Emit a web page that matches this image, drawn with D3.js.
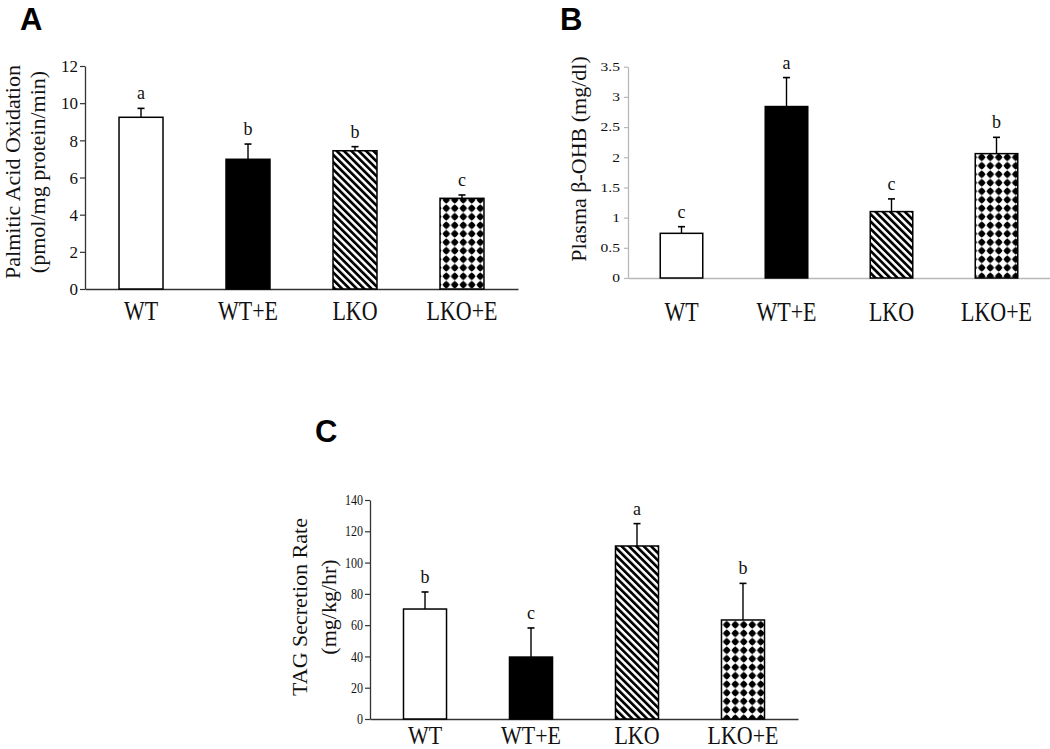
<!DOCTYPE html>
<html>
<head>
<meta charset="utf-8">
<script src="https://cdn.jsdelivr.net/npm/d3@7"></script>
<style>
  html, body { margin: 0; padding: 0; background: #fff; }
  svg { display: block; }
</style>
</head>
<body>
<svg id="chart" width="1050" height="749"></svg>
<script>
// ---------------- data ----------------
const categories = ["WT", "WT+E", "LKO", "LKO+E"];

const palmiticMean = [9.24, 6.98, 7.44, 4.88];
const palmiticSem = [0.48, 0.82, 0.22, 0.18];
const palmiticLetters = ["a", "b", "b", "c"];
const palmiticTicks = [0, 2, 4, 6, 8, 10, 12];

const ohbMean = [0.74, 2.84, 1.10, 2.06];
const ohbSem = [0.11, 0.48, 0.21, 0.27];
const ohbLetters = ["c", "a", "c", "b"];
const ohbTicks = [0, 0.5, 1, 1.5, 2, 2.5, 3, 3.5];

const tagMean = [70.3, 39.6, 110.6, 63.3];
const tagSem = [10.9, 18.6, 14.3, 23.4];
const tagLetters = ["b", "c", "a", "b"];
const tagTicks = [0, 20, 40, 60, 80, 100, 120, 140];

// ---------------- drawing ----------------
const svg = d3.select("#chart");
const serif = "'Liberation Serif', 'Times New Roman', serif";
const sans = "'Liberation Sans', Arial, sans-serif";

const defs = svg.append("defs");
const stripes = defs.append("pattern")
  .attr("id", "stripes").attr("patternUnits", "userSpaceOnUse")
  .attr("width", 5.2).attr("height", 5.2)
  .attr("patternTransform", "rotate(-45)");
stripes.append("rect").attr("width", 5.2).attr("height", 5.2).attr("fill", "#fff");
stripes.append("rect").attr("x", 0).attr("y", 0).attr("width", 2.7).attr("height", 5.2).attr("fill", "#000");

const P = 8.5;
const diamonds = defs.append("pattern")
  .attr("id", "diamonds").attr("patternUnits", "userSpaceOnUse")
  .attr("width", P).attr("height", P);
diamonds.append("rect").attr("width", P).attr("height", P).attr("fill", "#fff");
const h = P / 2, r = 3.9;
diamonds.append("path")
  .attr("d", `M${h},${h - r}L${h + r},${h}L${h},${h + r}L${h - r},${h}Z`)
  .attr("fill", "#000");
diamonds.append("circle").attr("cx", h).attr("cy", h).attr("r", 2.9).attr("fill", "#000");

const fills = ["#fff", "#000", "url(#stripes)", "url(#diamonds)"];

function panel(cfg) {
  const g = svg.append("g");
  const y = d3.scaleLinear().domain(cfg.domain).range(cfg.yRange);
  const x = d3.scaleBand().domain(categories).range(cfg.xRange)
    .paddingInner(cfg.pi).paddingOuter(cfg.po);

  // x axis (baseline + category labels)
  const xa = g.append("g")
    .attr("transform", `translate(0,${y(0)})`)
    .call(d3.axisBottom(x).tickSize(0).tickPadding(0));
  xa.select(".domain").attr("stroke", cfg.axisColor).attr("stroke-width", 1.3);
  xa.selectAll("text")
    .attr("y", null).attr("dy", null)
    .attr("fill", "#111")
    .attr("font-family", serif).attr("font-size", 22)
    .attr("transform", `translate(0,${cfg.catBase - y(0)}) scale(1,${cfg.catSy})`);

  // y axis
  const ya = g.append("g")
    .attr("transform", `translate(${cfg.xRange[0]},0)`)
    .call(d3.axisLeft(y).tickValues(cfg.ticks).tickFormat(d3.format("~g"))
      .tickSize(cfg.tickLen).tickSizeOuter(0));
  ya.select(".domain").attr("stroke", cfg.axisColor).attr("stroke-width", 1.3);
  ya.selectAll(".tick line").attr("stroke", cfg.axisColor).attr("stroke-width", 1.2);
  ya.selectAll("text")
    .attr("x", null).attr("dy", "0.34em")
    .attr("fill", "#111")
    .attr("font-family", serif).attr("font-size", cfg.tickFont)
    .attr("transform", `translate(${-cfg.tickGap},0) scale(${cfg.tickSx},${cfg.tickSy})`);

  // bars
  g.selectAll("rect.bar").data(cfg.mean).join("rect")
    .attr("class", "bar")
    .attr("x", (d, i) => x(categories[i]))
    .attr("width", x.bandwidth())
    .attr("y", d => y(d))
    .attr("height", d => y(0) - y(d))
    .attr("fill", (d, i) => fills[i])
    .attr("stroke", "#000").attr("stroke-width", 1.5);

  // error bars
  const cx = i => x(categories[i]) + x.bandwidth() / 2;
  g.selectAll("line.err").data(cfg.mean).join("line")
    .attr("class", "err")
    .attr("x1", (d, i) => cx(i)).attr("x2", (d, i) => cx(i))
    .attr("y1", d => y(d)).attr("y2", (d, i) => y(d + cfg.sem[i]))
    .attr("stroke", "#000").attr("stroke-width", 1.4);
  g.selectAll("line.cap").data(cfg.mean).join("line")
    .attr("class", "cap")
    .attr("x1", (d, i) => cx(i) - 3.5).attr("x2", (d, i) => cx(i) + 3.5)
    .attr("y1", (d, i) => y(d + cfg.sem[i])).attr("y2", (d, i) => y(d + cfg.sem[i]))
    .attr("stroke", "#000").attr("stroke-width", 1.6);

  // significance letters
  g.selectAll("text.sig").data(cfg.mean).join("text")
    .attr("class", "sig")
    .attr("x", (d, i) => cx(i))
    .attr("y", (d, i) => y(d + cfg.sem[i]) - 9)
    .attr("text-anchor", "middle")
    .attr("font-family", serif).attr("font-size", 18)
    .attr("fill", "#111")
    .text((d, i) => cfg.letters[i]);

  // y title
  cfg.yTitle.forEach((t, k) => {
    g.append("text")
      .attr("transform", `translate(${cfg.yTitleX[k]},${cfg.yTitleY}) rotate(-90)`)
      .attr("text-anchor", "middle")
      .attr("dominant-baseline", "central")
      .attr("font-family", serif).attr("font-size", 22)
      .attr("fill", "#111")
      .text(t);
  });

  // panel letter
  g.append("text")
    .attr("x", cfg.labelPos[0]).attr("y", cfg.labelPos[1])
    .attr("font-family", sans).attr("font-weight", "bold").attr("font-size", 31)
    .attr("fill", "#000")
    .text(cfg.label);
}

panel({
  label: "A", labelPos: [20, 30],
  mean: palmiticMean, sem: palmiticSem, letters: palmiticLetters, ticks: palmiticTicks,
  domain: [0, 12], yRange: [289, 66], xRange: [85, 518], pi: 0.589, po: 0.318,
  axisColor: "#333", tickLen: 5, tickGap: 7, tickFont: 17, tickSx: 1, tickSy: 1,
  catBase: 320, catSy: 1.2,
  yTitle: ["Palmitic Acid Oxidation", "(pmol/mg protein/min)"], yTitleX: [12, 37], yTitleY: 172
});

panel({
  label: "B", labelPos: [560, 30],
  mean: ohbMean, sem: ohbSem, letters: ohbLetters, ticks: ohbTicks,
  domain: [0, 3.5], yRange: [278, 66.7], xRange: [628, 1050], pi: 0.595, po: 0.307,
  axisColor: "#b8b8b8", tickLen: 4, tickGap: 8, tickFont: 11.5, tickSx: 1.35, tickSy: 1,
  catBase: 321, catSy: 1.2,
  yTitle: ["Plasma β-OHB (mg/dl)"], yTitleX: [578], yTitleY: 159
});

panel({
  label: "C", labelPos: [315, 442],
  mean: tagMean, sem: tagSem, letters: tagLetters, ticks: tagTicks,
  domain: [0, 140], yRange: [719, 500], xRange: [370, 798], pi: 0.594, po: 0.316,
  axisColor: "#333", tickLen: 5, tickGap: 7, tickFont: 12, tickSx: 1, tickSy: 1.15,
  catBase: 744, catSy: 1.1,
  yTitle: ["TAG Secretion Rate", "(mg/kg/hr)"], yTitleX: [299, 328], yTitleY: 607
});
</script>
</body>
</html>
